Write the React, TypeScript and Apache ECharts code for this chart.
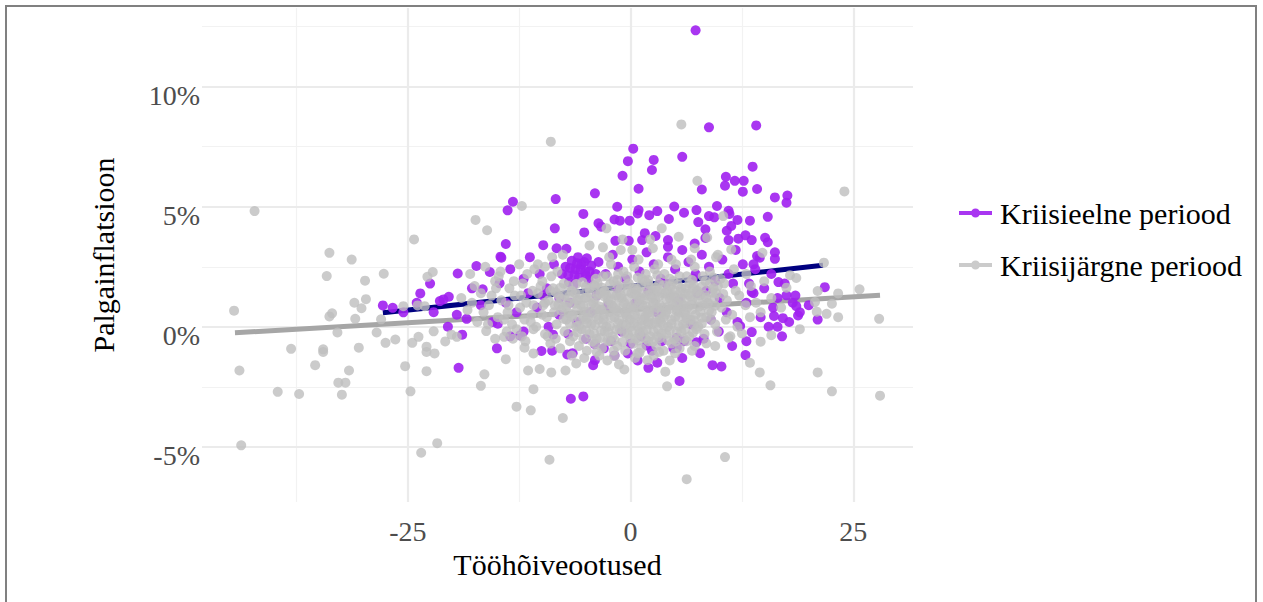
import React, { useEffect, useRef } from "react";
import * as echarts from "echarts";

const xLabelTicks = [-25, 0, 25];
const xMinorGrid = [-37.5, -12.5, 12.5];
const yLabelTicks = [-5, 0, 5, 10];
const yMinorGrid = [-2.5, 2.5, 7.5, 12.5];

const seriesNames = ["Kriisieelne periood", "Kriisijärgne periood"];

// Kriisieelne periood (purple)
const preCrisisPoints: number[][] = [
  [-23.6, 1.39], [-27.8, 0.89], [-26.7, 0.79], [-22.1, 0.61], [-21.4, 1.07],
  [0.3, 7.42], [-0.3, 6.9], [2.6, 6.95], [2.4, 6.53], [-0.9, 6.29], [0.9, 5.75], [-4.0, 5.56], [-8.4, 5.32],
  [-13.2, 5.21], [-13.8, 4.85], [-5.3, 4.7], [-1.5, 5.0], [0.9, 4.86], [0.8, 4.72], [2.1, 4.65], [3.0, 4.82],
  [4.9, 5.01], [4.3, 4.49], [-1.8, 4.47], [-1.2, 4.42], [-0.1, 4.42], [-3.6, 4.31], [-3.3, 4.17], [-8.5, 4.1],
  [-5.2, 3.93], [-14.0, 3.45], [-9.8, 3.4], [-8.3, 3.27], [-7.2, 3.25], [-1.7, 3.58], [-0.2, 3.58], [1.6, 3.9],
  [1.3, 3.61], [2.8, 3.78], [4.2, 3.61], [4.2, 3.33], [-14.6, 2.92],
  [7.3, 12.35], [8.8, 8.31], [14.1, 8.39], [5.8, 7.08], [13.7, 6.67], [10.7, 6.25], [10.6, 5.88], [11.7, 6.08],
  [12.7, 6.08], [12.6, 5.63], [14.2, 5.74], [8.0, 5.72], [16.2, 5.39], [17.6, 5.47], [17.5, 5.17], [6.0, 4.75],
  [7.4, 4.86], [9.7, 5.03], [11.0, 4.83], [11.1, 4.7], [8.8, 4.61], [9.4, 4.56], [12.0, 4.45], [13.4, 4.42],
  [15.4, 4.58], [7.6, 4.36], [11.3, 4.2], [10.8, 4.0], [8.4, 4.06], [8.4, 3.7], [11.0, 3.61], [12.1, 3.67],
  [12.9, 3.81], [13.6, 3.61], [15.1, 3.71], [15.4, 3.52], [16.2, 3.1], [7.2, 3.47], [14.2, 2.95],
  [21.8, 1.65], [12.9, -1.18], [10.2, -1.65], [5.5, -2.26], [18.8, 0.47], [16.5, 0.0], [13.6, -0.22], [16.1, 0.45],
  [16.6, 1.86], [13.6, 1.45], [12.3, 0.03], [16.2, 2.83], [14.5, 2.88], [13.8, 2.6], [7.4, -0.64], [17.1, 0.36],
  [18.6, 0.86], [17.5, 1.31],
  [-19.3, -1.71], [-6.7, -3.0], [-5.3, -2.9], [2.0, -1.71], [-8.7, -0.33], [-4.0, -1.39], [-14.9, 0.13],
  [-18.9, -0.33], [-19.4, 2.22], [-16.6, 1.56], [-14.7, 1.81], [-15.8, 2.28], [-17.3, 2.53], [-14.5, 2.88],
  [-21.0, 1.14], [-20.4, 1.25], [-18.4, 0.33], [-12.4, -0.36], [-10.0, -1.01], [-7.1, -1.15], [-4.0, -0.73],
  [-0.3, -1.11], [1.8, -0.78], [5.2, -0.87], [5.2, -0.46],
  [-7.3, 2.5], [-7.0, 2.15], [-6.6, 2.75], [-6.2, 2.4], [-5.8, 2.05], [-5.5, 2.6], [-5.1, 2.3], [-4.7, 1.95],
  [-4.4, 2.55], [-6.9, 1.85], [-7.7, 2.2], [-5.9, 2.9], [-4.9, 2.85], [-6.4, 1.75], [-3.9, 2.2],
  [-6.8, 2.45], [-6.3, 2.15], [-5.6, 2.4], [-5.2, 2.7], [-4.6, 2.3], [-6.0, 2.65], [-5.0, 2.1],
  [-13.5, 2.4], [-12.0, 2.0], [-11.3, 2.9], [-10.2, 2.2], [-9.4, 1.6], [-8.6, 2.6], [-8.0, 1.2], [-3.6, 2.7],
  [-2.8, 2.2], [-2.0, 3.0], [-1.4, 2.5], [-0.6, 2.0], [0.2, 2.8], [1.0, 2.3], [1.8, 3.1], [2.6, 2.6], [3.4, 2.0],
  [4.2, 2.9], [5.0, 2.4], [5.8, 3.2], [6.5, 2.7], [7.3, 2.2], [8.0, 3.0], [8.8, 2.5], [9.5, 1.9], [10.3, 2.8],
  [11.0, 2.2], [11.8, 3.2], [12.6, 2.6], [13.3, 1.8], [14.0, 2.4], [15.0, 1.6], [15.8, 2.2], [16.5, 1.2],
  [17.3, 1.8], [18.2, 1.0], [19.0, 0.6], [17.8, 0.2], [16.0, 0.8], [14.6, 0.4], [13.0, 1.0], [12.0, 0.2],
  [10.8, 0.6], [9.9, -0.2], [9.0, 0.3], [8.2, -0.5], [7.5, 1.4], [6.8, 0.1], [6.0, -0.6], [4.8, -0.9],
  [3.5, -0.6], [2.4, -1.0], [1.2, -0.4], [0.0, -0.7], [-1.0, -0.2], [-2.2, -0.6], [-3.0, -0.9], [-5.0, -0.5],
  [-6.0, 0.2], [-7.0, -0.3], [-8.0, 0.5], [-9.2, 0.0], [-10.5, 0.8], [-11.5, 1.4], [-12.8, 0.6], [-14.0, 1.0],
  [-15.5, 0.2], [-16.8, 0.9], [-17.8, 1.6], [-19.5, 0.5], [-20.5, 0.0], [-22.5, 1.8], [-24.0, 1.0],
  [-25.5, 0.6], [-3.8, 1.3], [-2.5, 0.9], [-1.5, 1.6], [0.6, 1.0], [2.0, 1.5], [3.0, 0.6], [4.0, 1.8],
  [5.4, 1.1], [7.0, 2.0], [8.5, 1.5], [10.0, 1.2], [11.5, 1.8], [13.8, 1.4], [15.5, 0.0], [17.0, -0.4],
  [18.5, 1.3], [20.0, 0.9], [21.0, 0.3], [-4.5, 0.6], [-6.8, 1.0], [-9.8, 1.3], [-12.0, -0.2], [-13.5, -0.4],
  [-15.0, -0.9], [-8.8, -1.0], [-6.5, -1.1], [-4.2, -1.6], [-1.8, -1.2], [0.8, -1.4], [3.0, -1.5], [5.8, -1.3],
  [7.8, -1.1], [9.2, -1.6], [11.4, -0.8], [13.0, -0.6],
];

// Kriisijärgne periood (grey)
const postCrisisPoints: number[][] = [
  [-42.2, 4.82], [-24.3, 3.64], [-33.8, 3.08], [-31.3, 2.8], [-34.1, 2.11], [-29.8, 1.92], [-27.7, 2.21],
  [-22.2, 2.28], [-22.8, 2.08], [-44.5, 0.67], [-33.5, 0.56], [-33.8, 0.43], [-31.0, 1.0], [-29.7, 1.15],
  [-30.2, 0.77], [-30.9, 0.33], [-32.9, -0.24], [-28.5, -0.24], [-28.0, 0.31], [-27.5, -0.67], [-26.4, -0.53],
  [-25.5, 0.86], [-24.5, -0.67], [-23.8, -0.42], [-23.9, 0.89], [-23.1, 0.86], [-22.9, -0.83], [-22.9, -1.05],
  [-22.0, -1.11], [-22.1, -0.19], [-38.1, -0.92], [-34.5, -0.94], [-34.5, -1.05], [-30.5, -0.87], [-35.4, -1.6],
  [-31.6, -1.82], [-43.9, -1.82], [-32.8, -2.33], [-32.0, -2.33], [-32.4, -2.83], [-39.6, -2.71], [-37.2, -2.8],
  [-25.3, -1.64], [-22.9, -1.85], [-24.7, -2.69], [-43.7, -4.94], [-23.5, -5.25], [-21.7, -4.85],
  [-8.95, 7.71], [-12.2, 5.03], [-17.4, 4.45], [-16.1, 4.02], [5.7, 8.43], [-2.7, 4.1], [-4.6, 3.39],
  [-3.1, 3.31], [-0.9, 3.64], [0.2, 3.2], [-1.1, 3.2], [3.5, 4.1], [2.2, 3.64], [2.5, 3.27], [5.4, 3.75],
  [-7.6, 3.0], [7.5, 6.08], [24.0, 5.64], [10.4, 4.61], [8.6, 3.72], [7.2, 3.27], [11.3, 3.22], [9.8, 3.0],
  [14.8, 3.08],
  [21.7, 2.67], [25.7, 1.56], [27.9, 0.33], [23.3, 1.39], [21.0, 1.49], [20.7, 1.03], [22.6, 0.96], [20.9, 0.63],
  [22.0, 0.54], [23.3, 0.4], [18.6, 2.03], [17.9, 2.15], [17.5, 1.63], [19.0, -0.1], [15.8, -0.35], [14.6, -0.62],
  [13.4, -1.5], [14.5, -1.9], [15.7, -2.44], [21.0, -1.9], [22.6, -2.69], [28.0, -2.87], [10.6, -5.43],
  [6.3, -6.35], [12.5, -0.28], [9.5, -0.8], [11.0, -0.46], [8.5, -0.69],
  [-9.1, -5.54], [-12.8, -3.33], [-11.2, -3.48], [-7.6, -3.8], [-10.9, -2.6], [-16.8, -2.46], [-16.4, -1.98],
  [-11.5, -1.82], [-10.2, -1.76], [-8.9, -1.9], [-7.3, -1.82], [-14.0, -1.35], [3.9, -1.87], [4.1, -2.48],
  [-0.7, -1.78], [1.9, -1.39], [1.0, -1.08], [-6.1, -1.53], [-11.9, -0.87], [-10.9, -1.11], [-15.2, -0.5],
  [-14.2, -0.42], [-16.2, -0.18], [-20.8, -0.61], [-19.5, -0.42], [-20.1, -0.33], [-1.3, -1.57], [-1.8, -1.22],
  [-12.5, 2.6], [-10.8, 2.4], [-9.6, 2.5], [-8.2, 2.3], [-3.1, 2.1],
  [-2.2, 2.6], [-0.8, 2.3], [0.4, 2.5], [1.3, 2.0], [2.7, 2.4], [3.8, 2.2], [5.1, 2.6], [6.3, 2.1], [7.2, 2.5],
  [8.9, 2.3], [10.1, 2.0], [11.6, 2.4], [13.0, 2.2], [-14.8, 2.1], [-16.3, 2.5], [-18.0, 2.2],
  [-17.5, 1.7], [-15.2, 1.9], [-13.6, 1.6], [-12.1, 1.8], [-11.0, 1.5], [-9.9, 1.9], [-8.7, 1.6], [-7.5, 1.8],
  [-6.6, 1.5], [-5.4, 1.85], [-4.6, 1.6], [-3.7, 1.8], [-2.9, 1.5], [-1.9, 1.9], [-1.1, 1.6], [-0.2, 1.8],
  [0.7, 1.5], [1.6, 1.9], [2.3, 1.6], [3.2, 1.8], [4.1, 1.5], [4.8, 1.9], [5.7, 1.6], [6.6, 1.8], [7.5, 1.5],
  [8.4, 1.9], [9.3, 1.6], [10.5, 1.8], [11.8, 1.5], [13.5, 1.7], [15.0, 1.9],
  [-19.0, 1.2], [-16.8, 1.4], [-14.5, 1.1], [-13.0, 1.3], [-11.7, 1.0], [-10.4, 1.4], [-9.2, 1.1], [-8.1, 1.3],
  [-7.0, 1.0], [-6.2, 1.4], [-5.1, 1.2], [-4.2, 1.0], [-3.4, 1.4], [-2.5, 1.1], [-1.6, 1.3], [-0.7, 1.0],
  [0.1, 1.4], [0.9, 1.1], [1.8, 1.3], [2.6, 1.0], [3.5, 1.4], [4.4, 1.2], [5.2, 1.0], [6.1, 1.4], [6.9, 1.1],
  [7.8, 1.3], [8.7, 1.0], [9.6, 1.4], [10.8, 1.1], [12.2, 1.3], [14.1, 1.0], [15.8, 1.2],
  [-18.3, 0.7], [-15.9, 0.9], [-13.8, 0.6], [-12.4, 0.8], [-11.1, 0.5], [-9.8, 0.9], [-8.6, 0.6], [-7.6, 0.8],
  [-6.5, 0.5], [-5.6, 0.9], [-4.8, 0.6], [-3.9, 0.8], [-3.0, 0.5], [-2.1, 0.9], [-1.3, 0.6], [-0.4, 0.8],
  [0.5, 0.5], [1.3, 0.9], [2.1, 0.6], [3.0, 0.8], [3.9, 0.5], [4.7, 0.9], [5.5, 0.6], [6.4, 0.8], [7.3, 0.5],
  [8.2, 0.9], [9.1, 0.6], [10.2, 0.8], [11.4, 0.5], [12.9, 0.9], [14.6, 0.6], [16.9, 0.8],
  [-17.2, 0.2], [-14.9, 0.4], [-13.3, 0.1], [-11.9, 0.3], [-10.6, 0.0], [-9.4, 0.4], [-8.3, 0.1], [-7.2, 0.3],
  [-6.1, 0.0], [-5.3, 0.4], [-4.4, 0.1], [-3.6, 0.3], [-2.7, 0.0], [-1.8, 0.4], [-0.9, 0.1], [-0.1, 0.3],
  [0.8, 0.0], [1.6, 0.4], [2.4, 0.1], [3.3, 0.3], [4.2, 0.0], [5.0, 0.4], [5.9, 0.1], [6.7, 0.3], [7.6, 0.0],
  [8.5, 0.4], [9.5, 0.1], [10.7, 0.3], [12.0, 0.0], [13.4, 0.4],
  [-13.9, -0.2], [-12.2, -0.4], [-10.9, -0.1], [-9.6, -0.3], [-8.4, -0.5], [-7.4, -0.2], [-6.4, -0.4],
  [-5.5, -0.1], [-4.6, -0.3], [-3.8, -0.5], [-2.9, -0.2], [-2.0, -0.4], [-1.2, -0.1], [-0.3, -0.3], [0.6, -0.5],
  [1.4, -0.2], [2.2, -0.4], [3.1, -0.1], [4.0, -0.3], [4.9, -0.5], [5.7, -0.2], [6.6, -0.4], [7.4, -0.1],
  [8.3, -0.3], [9.7, -0.2], [11.2, -0.4],
  [-9.0, -0.7], [-7.9, -0.9], [-6.8, -0.6], [-5.8, -0.8], [-4.9, -1.0], [-4.0, -0.7], [-3.2, -0.9], [-2.4, -0.6],
  [-1.5, -0.8], [-0.6, -1.0], [0.3, -0.7], [1.2, -0.9], [2.0, -0.6], [2.9, -0.8], [3.7, -1.0], [4.6, -0.7],
  [5.5, -0.9], [6.3, -0.6], [7.2, -0.8],
  [-5.2, -1.3], [-3.5, -1.2], [-2.6, -1.4], [0.5, -1.3], [2.6, -1.2], [4.4, -1.4], [-6.6, -1.2],
  [0.3, 0.9], [1.1, 1.2], [1.9, 0.7], [2.8, 1.1], [3.6, 0.8], [4.5, 1.3], [5.3, 0.7], [0.6, 1.6], [1.5, 0.3],
  [2.5, 1.5], [3.4, 0.2], [4.3, 1.7], [5.6, 1.2], [6.2, 0.5], [-0.5, 0.5], [-1.0, 1.2], [-1.9, 0.8],
  [-2.7, 1.3], [-3.3, 0.7], [0.0, 0.0], [1.0, -0.3], [2.0, 0.2], [3.0, -0.4], [4.0, 0.6], [5.0, 1.5],
  [6.0, 0.9], [7.0, 1.6], [-4.0, 1.7], [-5.0, 0.3], [-6.0, 1.1], [1.7, 2.2], [3.1, 2.6], [-1.4, 2.2],
  [-2.4, 2.9], [0.9, 2.8], [4.6, 2.8], [6.8, 2.8], [-8.8, 2.9], [9.6, 2.9],
  [-3.9, 2.0], [-2.6, 2.1], [-1.5, 1.95], [-0.4, 2.1], [0.8, 2.05], [2.0, 1.95], [3.0, 2.15], [4.4, 2.0],
  [5.5, 2.1], [6.9, 1.95], [8.1, 2.1], [9.3, 2.05],
  [-7.9, 1.62], [-7.0, 1.71], [-6.1, 1.78], [-5.0, 1.66], [-4.1, 1.72], [-3.2, 1.63], [-2.3, 1.77], [-1.4, 1.69],
  [-0.5, 1.74], [0.3, 1.62], [1.2, 1.71], [2.0, 1.79], [2.8, 1.64], [3.7, 1.73], [4.5, 1.68], [5.3, 1.76],
  [6.2, 1.61], [7.1, 1.72], [8.0, 1.67], [8.9, 1.78], [9.8, 1.7],
  [-8.4, 1.43], [-7.4, 1.31], [-6.6, 1.47], [-5.7, 1.36], [-4.6, 1.42], [-3.7, 1.33], [-2.9, 1.46], [-2.0, 1.38],
  [-1.1, 1.32], [-0.3, 1.48], [0.5, 1.37], [1.4, 1.41], [2.2, 1.34], [3.0, 1.47], [3.9, 1.39], [4.8, 1.31],
  [5.6, 1.44], [6.5, 1.36], [7.4, 1.46], [8.3, 1.33], [9.2, 1.42], [10.4, 1.37],
  [-7.8, 1.17], [-6.9, 1.26], [-5.9, 1.12], [-4.9, 1.23], [-4.0, 1.16], [-3.0, 1.27], [-2.2, 1.14], [-1.3, 1.22],
  [-0.2, 1.18], [0.7, 1.28], [1.5, 1.13], [2.4, 1.21], [3.2, 1.26], [4.0, 1.15], [4.9, 1.24], [5.8, 1.17],
  [6.7, 1.27], [7.6, 1.12], [8.5, 1.22], [9.4, 1.19],
  [-8.1, 0.93], [-7.2, 0.83], [-6.3, 0.97], [-5.3, 0.88], [-4.4, 0.92], [-3.5, 0.84], [-2.6, 0.96], [-1.7, 0.87],
  [-0.8, 0.91], [0.1, 0.82], [1.0, 0.94], [1.7, 0.86], [2.5, 0.98], [3.3, 0.89], [4.2, 0.83], [5.1, 0.95],
  [5.9, 0.87], [6.8, 0.92], [7.7, 0.84], [8.6, 0.96], [9.5, 0.88],
  [-7.8, 0.68], [-6.9, 0.57], [-6.0, 0.72], [-5.1, 0.63], [-4.2, 0.58], [-3.3, 0.71], [-2.4, 0.62], [-1.5, 0.67],
  [-0.6, 0.59], [0.3, 0.73], [1.1, 0.64], [1.9, 0.57], [2.7, 0.69], [3.5, 0.61], [4.4, 0.74], [5.2, 0.66],
  [6.0, 0.58], [6.9, 0.71], [7.8, 0.63], [8.8, 0.68],
  [-7.5, 0.33], [-6.6, 0.42], [-5.7, 0.28], [-4.8, 0.37], [-3.9, 0.43], [-3.0, 0.31], [-2.2, 0.38], [-1.3, 0.27],
  [-0.4, 0.41], [0.5, 0.34], [1.3, 0.26], [2.1, 0.43], [2.9, 0.32], [3.7, 0.39], [4.6, 0.28], [5.4, 0.41],
  [6.3, 0.35], [7.1, 0.27], [8.0, 0.38], [9.0, 0.31],
  [-6.8, 0.12], [-5.8, 0.04], [-4.9, 0.16], [-4.0, 0.07], [-3.1, 0.13], [-2.3, 0.02], [-1.4, 0.15], [-0.5, 0.08],
  [0.4, 0.14], [1.2, 0.03], [2.0, 0.11], [2.8, 0.17], [3.7, 0.06], [4.6, 0.12], [5.4, 0.02], [6.2, 0.16],
  [7.1, 0.08], [8.0, 0.13],
  [-6.0, -0.22], [-5.0, -0.14], [-4.1, -0.27], [-3.3, -0.17], [-2.5, -0.23], [-1.6, -0.12], [-0.7, -0.26],
  [0.2, -0.18], [1.0, -0.24], [1.8, -0.13], [2.6, -0.21], [3.5, -0.28], [4.4, -0.16], [5.2, -0.22], [6.1, -0.11],
  [7.0, -0.25],
  [-5.3, -0.52], [-4.3, -0.61], [-3.4, -0.47], [-2.6, -0.58], [-1.8, -0.54], [-0.9, -0.63], [0.0, -0.49],
  [0.9, -0.57], [1.7, -0.51], [2.5, -0.62], [3.3, -0.48], [4.2, -0.56], [5.1, -0.6], [6.0, -0.5],
  [-3.8, -1.05], [-1.9, -1.0], [0.8, -1.1], [3.2, -1.05], [5.0, -1.1], [6.9, -1.0],
  [-16.5, 0.6], [-15.6, 1.3], [-14.2, 0.3], [-13.1, 1.9], [-12.8, -0.1], [-11.6, 2.2], [-10.9, 0.9],
  [-10.1, 1.7], [-9.3, -0.4], [-8.9, 2.1], [-15.1, 1.6], [-13.7, 0.9], [-12.3, 1.3], [-11.2, 0.2], [-9.9, 0.5],
  [-9.0, 1.5], [-16.0, 0.1], [-14.6, 2.3], [-13.2, -0.5], [-10.4, 2.6], [-8.5, 0.9], [-17.8, 1.0],
  [-11.8, -0.6], [-9.6, 1.0],
];

// fitted lines (start and end of each line)
const preCrisisFit: number[][] = [[-27.8, 0.58], [21.6, 2.56]];
const postCrisisFit: number[][] = [[-44.4, -0.25], [28.0, 1.31]];

const SERIF = '"Liberation Serif", "Times New Roman", serif';
const legendIcon =
  "path://M0,2.5 L33,2.5 L33,6.5 L0,6.5 Z M12,4.5 A4.5,4.5 0 1 1 21,4.5 A4.5,4.5 0 1 1 12,4.5 Z";

export default function App() {
  const ref = useRef<HTMLDivElement>(null);
  useEffect(() => {
    if (!ref.current) return;
    const chart = echarts.init(ref.current, null, { renderer: "svg" });
    const gridLine = (color: string, width: number) => ({ color, width, type: "solid" as const });
    chart.setOption({
      animation: false,
      backgroundColor: "#ffffff",
      textStyle: { fontFamily: SERIF },
      grid: { left: 202, right: 350, top: 8, bottom: 100, containLabel: false },
      xAxis: {
        type: "value",
        min: -48.1,
        max: 31.7,
        name: "Tööhõiveootused",
        nameLocation: "middle",
        nameGap: 36,
        nameTextStyle: { fontFamily: SERIF, fontSize: 30, color: "#000000" },
        axisLine: { show: false },
        axisTick: { show: false },
        splitLine: { show: false },
        axisLabel: {
          customValues: xLabelTicks,
          fontFamily: SERIF,
          fontSize: 28,
          color: "#4D4D4D",
          margin: 15,
        },
      },
      yAxis: {
        type: "value",
        min: -7.3,
        max: 13.28,
        name: "Palgainflatsioon",
        nameLocation: "middle",
        nameGap: 84,
        nameTextStyle: { fontFamily: SERIF, fontSize: 30, color: "#000000" },
        axisLine: { show: false },
        axisTick: { show: false },
        splitLine: { show: false },
        axisLabel: {
          customValues: yLabelTicks,
          formatter: (v: number) => `${v}%`,
          fontFamily: SERIF,
          fontSize: 28,
          color: "#4D4D4D",
          margin: 2,
          verticalAlign: "top",
          lineHeight: 17,
        },
      },
      legend: {
        data: seriesNames,
        orient: "vertical",
        left: 954,
        top: 193,
        itemWidth: 33,
        itemHeight: 9,
        itemGap: 22,
        icon: legendIcon,
        textStyle: { fontFamily: SERIF, fontSize: 30, color: "#000000", padding: [0, 0, 0, 3] },
      },
      graphic: [
        {
          type: "rect",
          shape: { x: 6, y: 6, width: 1250, height: 640 },
          style: { fill: "none", stroke: "#808080", lineWidth: 2 },
          silent: true,
          z: 100,
        },
      ],
      series: [
        {
          name: "grid",
          type: "line",
          data: [],
          z: 0,
          silent: true,
          markLine: {
            silent: true,
            z: 0,
            zlevel: 0,
            symbol: "none",
            label: { show: false },
            emphasis: { disabled: true },
            data: [
              ...yMinorGrid.map((v) => ({ yAxis: v, lineStyle: gridLine("#F2F2F2", 1.2) })),
              ...xMinorGrid.map((v) => ({ xAxis: v, lineStyle: gridLine("#F2F2F2", 1.2) })),
              ...yLabelTicks.map((v) => ({ yAxis: v, lineStyle: gridLine("#EBEBEB", 2.2) })),
              ...xLabelTicks.map((v) => ({ xAxis: v, lineStyle: gridLine("#EBEBEB", 2.2) })),
            ],
          },
        },
        {
          name: seriesNames[0],
          type: "scatter",
          data: preCrisisPoints,
          symbolSize: 10,
          z: 2,
          itemStyle: { color: "#A020F0", opacity: 0.9 },
        },
        {
          name: "fitPre",
          type: "line",
          data: preCrisisFit,
          showSymbol: false,
          z: 2,
          lineStyle: { color: "#000080", width: 5 },
        },
        {
          name: seriesNames[1],
          type: "scatter",
          data: postCrisisPoints,
          symbolSize: 10,
          z: 2,
          itemStyle: { color: "#BEBEBE", opacity: 0.8 },
        },
        {
          name: "fitPost",
          type: "line",
          data: postCrisisFit,
          showSymbol: false,
          z: 2,
          lineStyle: { color: "#A6A6A6", width: 5 },
        },
      ],
    });
    return () => chart.dispose();
  }, []);
  return (
    <div
      ref={ref}
      style={{ position: "fixed", left: 0, top: 0, width: 1263, height: 602, background: "#fff" }}
    />
  );
}
